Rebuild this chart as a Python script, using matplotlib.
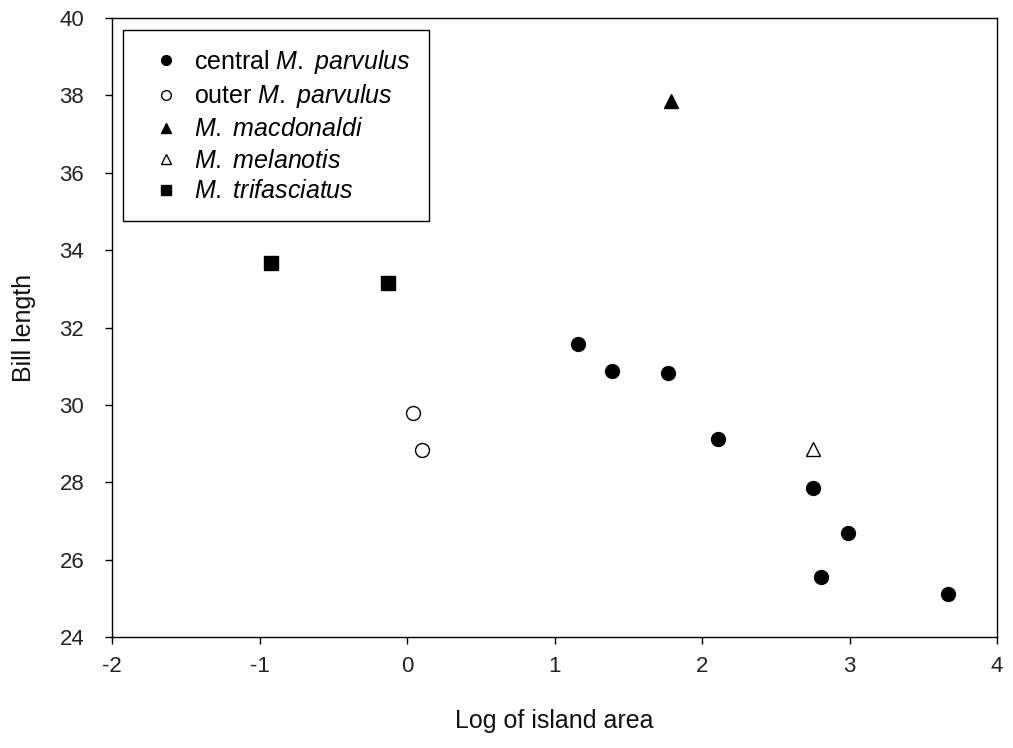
import matplotlib
matplotlib.use("Agg")
import matplotlib.pyplot as plt

plt.rcParams["font.family"] = ["Liberation Sans", "DejaVu Sans"]
plt.rcParams["mathtext.fontset"] = "custom"
plt.rcParams["mathtext.rm"] = "Liberation Sans"
plt.rcParams["mathtext.it"] = "Liberation Sans:italic"
plt.rcParams["axes.unicode_minus"] = False

# values
central_x = [1.16, 1.39, 1.77, 2.11, 2.75, 2.99, 2.81, 3.67]
central_y = [31.57, 30.88, 30.83, 29.12, 27.84, 26.70, 25.56, 25.10]
outer_x = [0.04, 0.10]
outer_y = [29.80, 28.83]
macdonaldi_x = [1.79]
macdonaldi_y = [37.86]
melanotis_x = [2.75]
melanotis_y = [28.86]
trifasciatus_x = [-0.92, -0.13]
trifasciatus_y = [33.66, 33.16]

x_ticks = [-2, -1, 0, 1, 2, 3, 4]
y_ticks = [24, 26, 28, 30, 32, 34, 36, 38, 40]

fig = plt.figure(figsize=(10.13, 7.48), dpi=100)
ax = fig.add_axes([112 / 1013, 1 - 637 / 748, 885 / 1013, 619 / 748])

ax.plot(central_x, central_y, "o", color="black", markersize=10,
        label=r"central $\it{M.}$ $\it{parvulus}$")
ax.plot(outer_x, outer_y, "o", markerfacecolor="white", markeredgecolor="black",
        markeredgewidth=1.0, markersize=10, label=r"outer $\it{M.}$ $\it{parvulus}$")
ax.plot(macdonaldi_x, macdonaldi_y, "^", color="black", markersize=10.5,
        label=r"$\it{M.}$ $\it{macdonaldi}$")
ax.plot(melanotis_x, melanotis_y, "^", markerfacecolor="white", markeredgecolor="black",
        markeredgewidth=1.0, markersize=10.5, label=r"$\it{M.}$ $\it{melanotis}$")
ax.plot(trifasciatus_x, trifasciatus_y, "s", color="black", markersize=10.5,
        label=r"$\it{M.}$ $\it{trifasciatus}$")

ax.set_xlim(-2, 4)
ax.set_ylim(24, 40)
ax.set_xticks(x_ticks)
ax.set_yticks(y_ticks)
ax.tick_params(axis="both", direction="out", length=5, width=1.0, colors="black",
               labelcolor="#222222")
ax.tick_params(axis="y", labelsize=16, pad=15)
ax.tick_params(axis="x", labelsize=16, pad=9)
for s in ax.spines.values():
    s.set_linewidth(1.0)
    s.set_color("black")

ax.set_xlabel("Log of island area", fontsize=18, labelpad=23, color="#111111")
ax.set_ylabel("Bill length", fontsize=18, labelpad=17, color="#111111")

leg = ax.legend(loc="upper left", bbox_to_anchor=(11 / 885, 1 - 12 / 619),
                borderaxespad=0, fontsize=18, markerscale=0.7, frameon=True,
                fancybox=False, edgecolor="black", framealpha=1,
                borderpad=0.7, handlelength=2.0, handletextpad=0.15,
                labelspacing=0.28)
leg.get_frame().set_linewidth(1.0)

fig.savefig("out.png", dpi=100)
